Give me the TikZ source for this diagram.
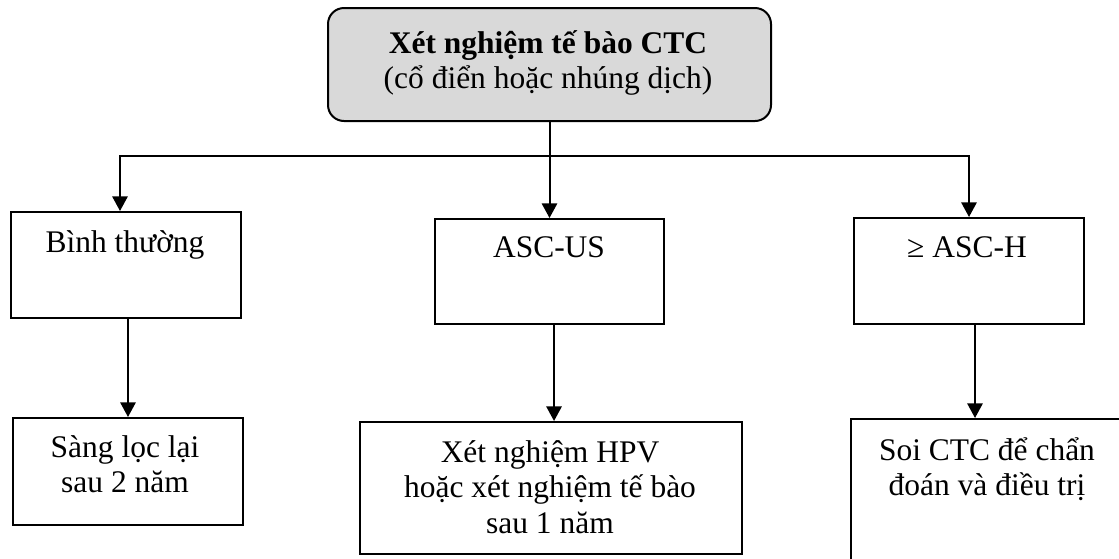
\documentclass[tikz,border=0pt]{standalone}
\usepackage{fontspec}
\setmainfont{Liberation Serif}
\usetikzlibrary{arrows.meta}
\definecolor{boxgray}{RGB}{217,217,217}
\newcommand{\mlines}[1]{\begin{tabular}[t]{@{}c@{}}#1\end{tabular}}
\begin{document}
\begin{tikzpicture}[x=0.75pt,y=-0.75pt,
  box/.style={draw, line width=1.5pt, inner sep=0pt, anchor=north west},
  txt/.style={inner sep=0pt, anchor=base, font=\fontsize{23.6}{26.8}\selectfont},
  arr/.style={line width=1.5pt, -{Triangle[width=11.5pt,length=11pt]}}]
\useasboundingbox (0,0) rectangle (1119,558);
\clip (0,0) rectangle (1119,558);
% boxes
\node[box, fill=boxgray, rounded corners=12pt, minimum width=332.25pt, minimum height=84.75pt] (top) at (327,7) {};
\node[box, minimum width=172.5pt, minimum height=79.5pt] (bt) at (10,211) {};
\node[box, minimum width=171.75pt, minimum height=78.75pt] (asc) at (434,218) {};
\node[box, minimum width=172.5pt, minimum height=79.5pt] (ah) at (853,217) {};
\node[box, minimum width=172.5pt, minimum height=80.25pt] (sl) at (12,417) {};
\node[box, minimum width=286.5pt, minimum height=99pt] (hpv) at (359,421) {};
\node[box, minimum width=205.5pt, minimum height=136.5pt] (soi) at (850,418) {};
% texts
\node[txt] (toptxt) at (548,53) {\mlines{\textbf{Xét nghiệm tế bào CTC}\\(cổ điển hoặc nhúng dịch)}};
\node[txt] (bttxt) at (125,252) {Bình thường};
\node[txt] (asctxt) at (549,257) {ASC-US};
\node[txt] (ahtxt) at (967,257) {≥ ASC-H};
\node[txt] (sltxt) at (125,457) {\mlines{Sàng lọc lại\\sau 2 năm}};
\node[txt] (hpvtxt) at (550,462) {\mlines{Xét nghiệm HPV\\hoặc xét nghiệm tế bào\\sau 1 năm}};
\node[txt] (soitxt) at (987,460) {\mlines{Soi CTC để chẩn\\đoán và điều trị}};
% connectors
\coordinate (j) at (549,156);
\draw[arr] (top.south) -- (asc.north);
\draw[arr] (j) -| ([xshift=-4.5pt]bt.north);
\draw[arr] (j) -| (ah.north);
\draw[arr] ([xshift=1.5pt]bt.south) -- ([xshift=1.5pt]bt.south |- sl.north);
\draw[arr] ([xshift=3.4pt]asc.south) -- ([xshift=3.4pt]asc.south |- hpv.north);
\draw[arr] ([xshift=4.5pt]ah.south) -- ([xshift=4.5pt]ah.south |- soi.north);
\end{tikzpicture}
\end{document}
